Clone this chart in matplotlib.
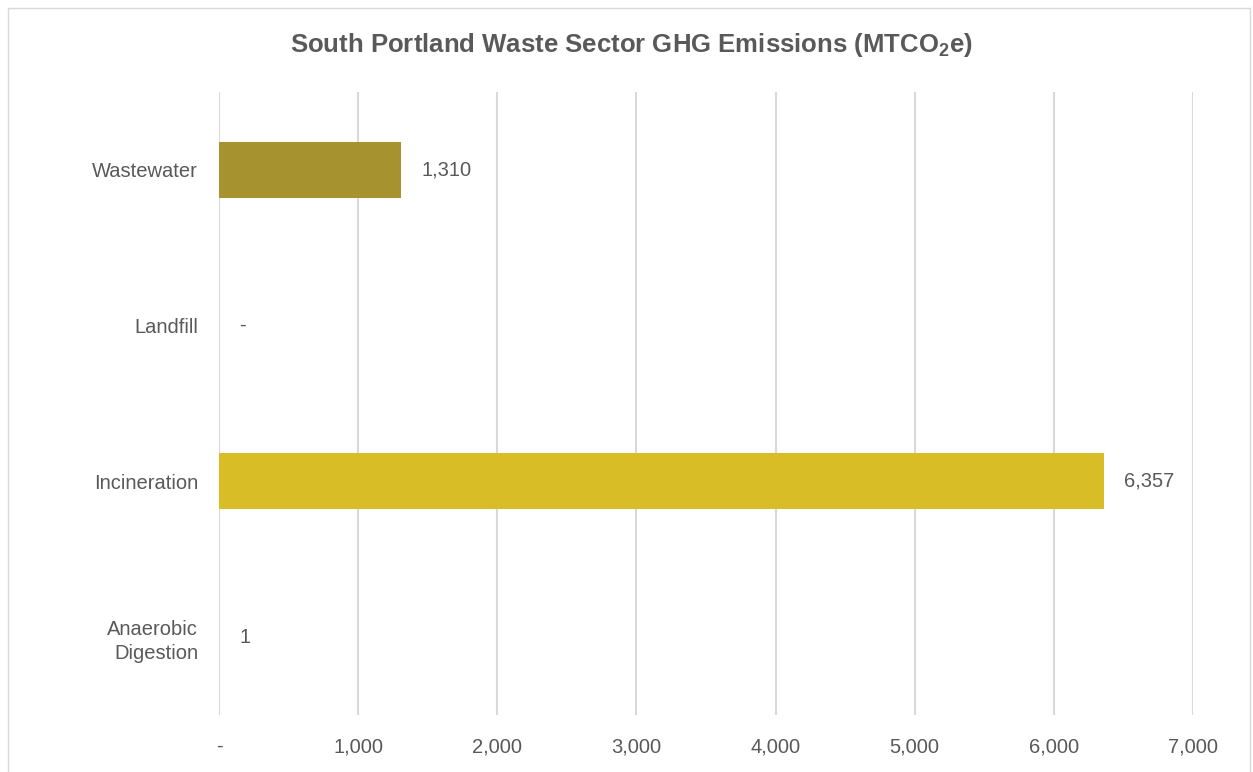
import matplotlib
matplotlib.use("Agg")
import matplotlib.pyplot as plt
from matplotlib.patches import Rectangle

categorias = ["Wastewater", "Landfill", "Incineration", "Anaerobic\nDigestion"]
valores = [1310, 0, 6357, 1]
rotulos = ["1,310", "-", "6,357", "1"]
cores = ["#A69330", "#D9BD26", "#D9BD26", "#D9BD26"]
ticks_x = [0, 1000, 2000, 3000, 4000, 5000, 6000, 7000]
ticks_x_txt = ["-", "1,000", "2,000", "3,000", "4,000", "5,000", "6,000", "7,000"]

plt.rcParams['font.family'] = ['Liberation Sans', 'DejaVu Sans']
plt.rcParams['mathtext.fontset'] = 'custom'
plt.rcParams['mathtext.rm'] = 'Liberation Sans'
plt.rcParams['mathtext.bf'] = 'Liberation Sans:bold'
cinza = "#595959"

fig = plt.figure(figsize=(12.53, 7.72), dpi=100)
ax = fig.add_axes([219/1253, 1-715/772, 974/1253, 623/772])

# moldura do grafico
fig.patches.append(Rectangle((8/1253, -0.01), 1242/1253, 1.0, transform=fig.transFigure,
                             fill=False, edgecolor="#D9D9D9", linewidth=1))

pos = list(range(len(categorias)))
ax.barh(pos, valores, height=0.36, color=cores, zorder=3)

for p, v, r in zip(pos, valores, rotulos):
    ax.annotate(r, (v, p), xytext=(20, 0), textcoords="offset pixels",
                va="center", ha="left", fontsize=14.5, color=cinza)

ax.set_xlim(0, 7000)
ax.set_ylim(3.5, -0.5)
ax.set_xticks(ticks_x)
ax.set_xticklabels(ticks_x_txt, fontsize=14.5, color=cinza)
ax.set_yticks(pos)
ax.set_yticklabels(categorias, fontsize=14.5, color=cinza, ha="right", linespacing=1.35)
ax.tick_params(axis="both", length=0)
ax.tick_params(axis="x", pad=16)
ax.tick_params(axis="y", pad=15)
ax.grid(axis="x", color="#D9D9D9", linewidth=1.5, zorder=0)
for s in ax.spines.values():
    s.set_visible(False)

fig.text(631/1253, 1-45/772, r"South Portland Waste Sector GHG Emissions (MTCO$\mathbf{_2}$e)",
         ha="center", va="center", fontsize=18.5, fontweight="bold", color=cinza)

fig.savefig("out.png", dpi=100)
